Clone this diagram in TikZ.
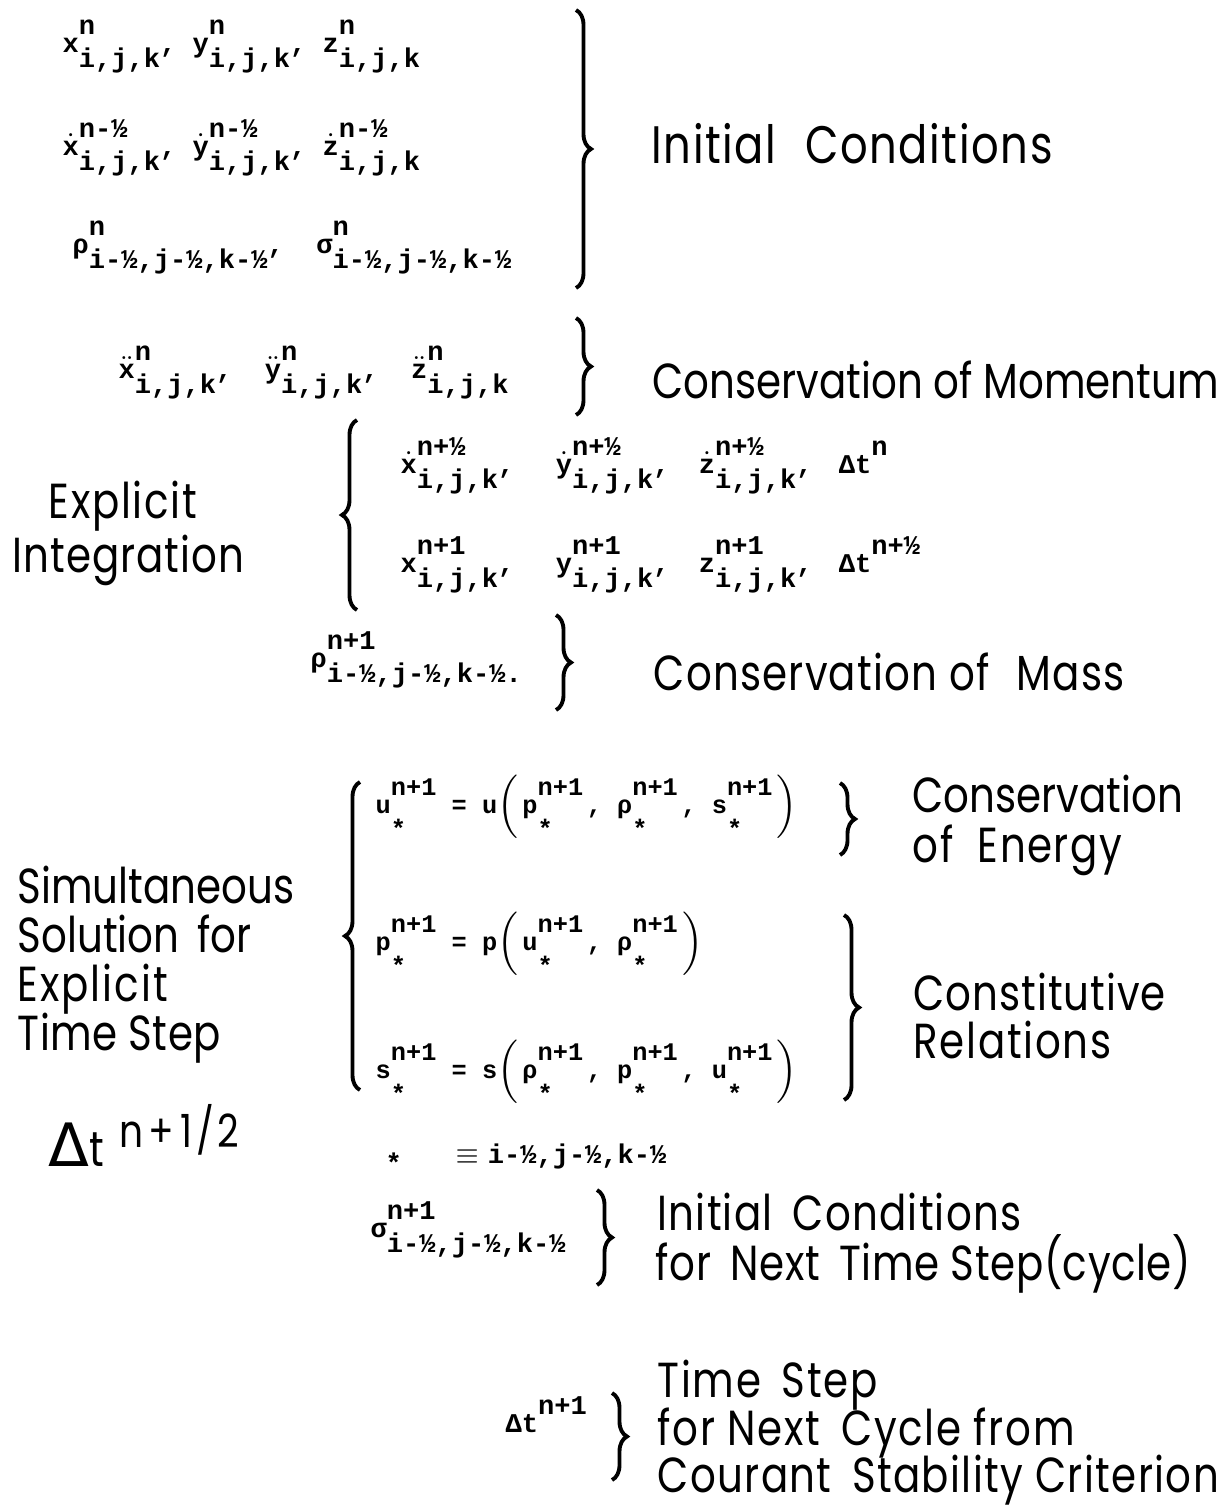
\documentclass[tikz,border=0pt]{standalone}
\usepackage{fontspec}
\usetikzlibrary{decorations.pathreplacing}
\newfontfamily\labfont{Poppins}[FakeStretch=0.82]
\newfontfamily\eqfont{Liberation Mono}
\newfontfamily\deltafont{DejaVu Sans}
\newlength{\pxu}\setlength{\pxu}{0.28453pt}
% base letter with superscript and subscript, typewriter style
\newcommand{\ivar}[3]{#1\setbox0\hbox{\raisebox{4.9pt}{#2}}%
  \setbox2\hbox{\raisebox{-4.3pt}{#3}}%
  \ifdim\wd0>\wd2 \rlap{\box2}\box0\else\rlap{\box0}\box2\fi}
\newcommand{\dotd}[1]{$\dot{\hbox{#1}}$}
\newcommand{\ddotd}[1]{$\ddot{\hbox{#1}}$}
\newcommand{\cstar}{\raisebox{-2.6pt}{*}}
\newcommand{\lpar}{$\left(\vrule height 9pt depth 7.5pt width 0pt\right.$}
\newcommand{\rpar}{$\left.\vrule height 9pt depth 7.5pt width 0pt\right)$}
\newcommand{\cell}[2]{\makebox[#1\pxu][l]{#2}}
\tikzset{
  eqtext/.style={
    font=\eqfont\bfseries\fontsize{7.7}{9}\selectfont,
    anchor=base west, inner sep=0pt
  },
  eqline/.style={
    font=\eqfont\bfseries\fontsize{7.2}{9}\selectfont,
    anchor=base west, inner sep=0pt
  },
  labtext/.style={
    font={\labfont\fontsize{14}{16}\selectfont\addfontfeature{LetterSpace=#1}},
    anchor=base west, inner sep=0pt
  },
  labtext/.default=0,
  bracer/.style={
    decorate, decoration={brace, amplitude=0.15cm}, line width=1.1pt
  },
}

\begin{document}
\begin{tikzpicture}[x=0.01cm, y=-0.01cm]
  \useasboundingbox (0,0) rectangle (1228,1506);

  % ── Initial conditions ─────────────────────────────────────────
  \node[eqtext] (pos) at (62,52)
    {\ivar{x}{n}{i,j,k},\ \ivar{y}{n}{i,j,k},\ \ivar{z}{n}{i,j,k}};
  \node[eqtext] (vel) at (62,155)
    {\ivar{\dotd{x}}{n-½}{i,j,k},\ \ivar{\dotd{y}}{n-½}{i,j,k},\
     \ivar{\dotd{z}}{n-½}{i,j,k}};
  \node[eqtext] (dens) at (72,253)
    {\ivar{ρ}{n}{i-½,j-½,k-½},\ \ \ivar{σ}{n}{i-½,j-½,k-½}};
  \draw[bracer] (576,10) -- (576,288);
  \node[labtext=3] (initial) at (651,163)
    {\fontsize{15}{17}\selectfont Initial\hspace{0.3em} Conditions};

  % ── Momentum ───────────────────────────────────────────────────
  \node[eqtext] (accel) at (118,378)
    {\ivar{\ddotd{x}}{n}{i,j,k},\ \ \ivar{\ddotd{y}}{n}{i,j,k},\ \
     \ivar{\ddotd{z}}{n}{i,j,k}};
  \draw[bracer] (576,318) -- (576,415);
  \node[labtext] (momentum) at (652,398) {Conservation of Momentum};

  % ── Explicit integration ───────────────────────────────────────
  \node[labtext=3.5] (explicit) at (48,518) {Explicit};
  \node[labtext=2] (integ) at (12,572) {Integration};
  \draw[bracer] (357,610) -- (357,420);
  \node[eqtext] (velnew) at (400,473)
    {\cell{155}{\ivar{\dotd{x}}{n+½}{i,j,k},}%
     \cell{143}{\ivar{\dotd{y}}{n+½}{i,j,k},}%
     \cell{140}{\ivar{\dotd{z}}{n+½}{i,j,k},}%
     \ivar{Δt}{n}{}};
  \node[eqtext] (posnew) at (400,572)
    {\cell{155}{\ivar{x}{n+1}{i,j,k},}%
     \cell{143}{\ivar{y}{n+1}{i,j,k},}%
     \cell{140}{\ivar{z}{n+1}{i,j,k},}%
     \ivar{Δt}{n+½}{}};

  % ── Mass ───────────────────────────────────────────────────────
  \node[eqtext] (densnew) at (310,667) {\ivar{ρ}{n+1}{i-½,j-½,k-½.}};
  \draw[bracer] (556,615) -- (556,710);
  \node[labtext=2.5] (mass) at (653,690) {Conservation of\hspace{0.3em} Mass};

  % ── Simultaneous solution ──────────────────────────────────────
  \node[labtext] (simul1) at (17,903) {Simultaneous};
  \node[labtext] (simul2) at (17,952) {Solution\hspace{0.15em} for};
  \node[labtext=4] (simul3) at (17,1001) {Explicit};
  \node[labtext=1] (simul4) at (17,1050) {Time Step};
  \node[labtext] (dthalf) at (48,1166)
    {{\deltafont\fontsize{17}{17}\selectfont Δ}t\hspace{0.3em}%
     \raisebox{5.4pt}{\fontsize{13}{14}\selectfont
       n\hspace{1.5pt}+\hspace{2pt}1\hspace{1pt}/\hspace{1pt}2}};
  \draw[bracer] (360,1090) -- (360,782);

  \node[eqline] (energy) at (375,813)
    {\ivar{u}{n+1}{\cstar}\ =\ u\lpar\ivar{p}{n+1}{\cstar}\hspace{1pt},\
     \ivar{ρ}{n+1}{\cstar}\hspace{1pt},\ \ivar{s}{n+1}{\cstar}\rpar};
  \node[eqline] (press) at (375,950)
    {\ivar{p}{n+1}{\cstar}\ =\ p\lpar\ivar{u}{n+1}{\cstar}\hspace{1pt},\
     \ivar{ρ}{n+1}{\cstar}\rpar};
  \node[eqline] (entropy) at (375,1078)
    {\ivar{s}{n+1}{\cstar}\ =\ s\lpar\ivar{ρ}{n+1}{\cstar}\hspace{1pt},\
     \ivar{p}{n+1}{\cstar}\hspace{1pt},\ \ivar{u}{n+1}{\cstar}\rpar};

  \draw[bracer] (840,783) -- (840,855);
  \node[labtext] (energy1) at (912,812) {Conservation};
  \node[labtext=3] (energy2) at (912,862) {of\hspace{0.25em} Energy};
  \draw[bracer] (844,915) -- (844,1100);
  \node[labtext=2] (const1) at (913,1010) {Constitutive};
  \node[labtext=3.4] (const2) at (913,1058) {Relations};

  \node[eqtext] (stardef) at (385,1163)
    {\cell{70}{\raisebox{-2.6pt}{*}}\cell{32}{$\equiv$}i-½,j-½,k-½};

  % ── Next cycle ─────────────────────────────────────────────────
  \node[eqtext] (stress) at (370,1237) {\ivar{σ}{n+1}{i-½,j-½,k-½}};
  \draw[bracer] (597,1190) -- (597,1285);
  \node[labtext=2.5] (next1) at (657,1230) {Initial\, Conditions};
  \node[labtext=1.2] (next2) at (655,1280) {for\, Next\, Time Step(cycle)};

  \node[eqtext] (dtnext) at (505,1432) {\ivar{Δt}{n+1}{}};
  \draw[bracer] (612,1393) -- (612,1480);
  \node[labtext=3.4] (cour1) at (657,1397) {Time\, Step};
  \node[labtext=3.5] (cour2) at (657,1445) {for Next\, Cycle from};
  \node[labtext=2.8] (cour3) at (657,1492) {Courant\, Stability Criterion};
\end{tikzpicture}
\end{document}
